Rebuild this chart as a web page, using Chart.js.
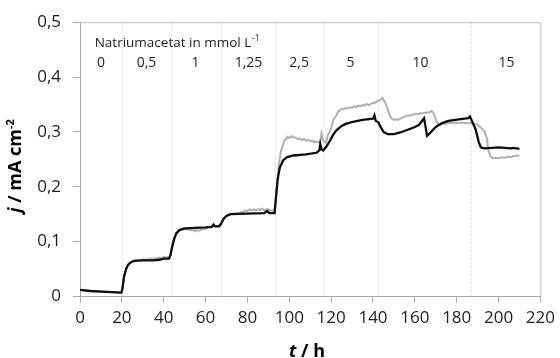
<!DOCTYPE html>
<html>
<head>
<meta charset="utf-8">
<script src="https://cdn.jsdelivr.net/npm/chart.js@4"></script>
<style>
html,body{margin:0;padding:0;background:#fff;}
#wrap{width:560px;height:358px;}
</style>
</head>
<body>
<div id="wrap"><canvas id="c" width="560" height="358"></canvas></div>
<script>
// ---- data ----
const tBlack = [0,5,10,15,19.8,20.3,21,22,23,24.5,26,30,35,38,40,42.5,43.2,44,45,46,47.5,50,55,60,63,63.8,64.5,66.5,67.5,68.5,70,72,80,88,89.5,90.5,93,93.5,94.5,95.5,97,99,102,108,113,114.3,114.8,115.4,116.2,117.5,119.3,121,122.5,125,127.3,131,135,140,140.7,141.3,142.5,143.5,145,147,150,153,156,160,162,164.4,165.3,165.8,167,170,173,176,181,185.5,186.3,187.5,189,190.5,191.5,193,197,200,203,206,207,210];
const jBlack = [0.012,0.010,0.009,0.008,0.007,0.015,0.035,0.050,0.058,0.063,0.065,0.066,0.066,0.067,0.069,0.069,0.075,0.090,0.105,0.115,0.121,0.124,0.125,0.126,0.127,0.131,0.128,0.128,0.133,0.141,0.147,0.150,0.151,0.152,0.156,0.152,0.152,0.175,0.215,0.235,0.248,0.254,0.257,0.259,0.262,0.266,0.278,0.268,0.266,0.272,0.283,0.295,0.303,0.311,0.315,0.319,0.322,0.324,0.330,0.320,0.318,0.310,0.300,0.296,0.296,0.299,0.303,0.309,0.313,0.325,0.305,0.293,0.297,0.309,0.316,0.320,0.323,0.325,0.328,0.318,0.305,0.282,0.272,0.270,0.271,0.272,0.271,0.270,0.271,0.269];

const tGray = [0,5,10,15,19.8,20.3,21,22,23,24.5,26,28,29,30,31,32,33,34,35,36,37,38,39,40,41,42,42.5,43.2,44,45,46,47.5,50,52,53,54,55,56,57,58,60,63,63.8,64.5,66.5,67.5,68.5,70,72,74,75,76,77,78,79,80,81,82,83,84,85,86,87,88,89,90,91,92.5,93.3,94,95,96,97.5,98.5,99,100,101,102,103,104,105,106,107,108,109,110,111,112,113,114.2,114.8,115.4,116.2,117.5,118.5,120,121,122.5,123.5,124,125,126,127,128,129,130,131,132,133,134,135,136,137,138,139,140,140.6,141.5,143,144.5,146,147,148,149,150,151,152,153.5,155,156.5,158,159.5,161,162.5,164,164.7,165.3,167,168,169,170.5,172,173.5,175,176.5,178,179.5,181,182.5,184.5,186.5,188,189.5,190.5,191.7,193.3,194.5,195,196,197,198.5,200,201.5,203,204.5,206,207,208,209,210];
const jGray = [0.012,0.010,0.009,0.008,0.007,0.015,0.035,0.050,0.058,0.063,0.065,0.067,0.066,0.068,0.067,0.068,0.067,0.069,0.068,0.070,0.069,0.071,0.070,0.072,0.071,0.072,0.070,0.075,0.090,0.105,0.115,0.121,0.123,0.122,0.121,0.122,0.119,0.121,0.120,0.122,0.124,0.127,0.130,0.128,0.129,0.134,0.142,0.148,0.151,0.151,0.152,0.151,0.154,0.153,0.157,0.156,0.159,0.157,0.159,0.157,0.159,0.158,0.160,0.157,0.159,0.159,0.157,0.156,0.165,0.200,0.240,0.265,0.283,0.287,0.291,0.289,0.292,0.290,0.290,0.287,0.288,0.285,0.287,0.284,0.286,0.283,0.284,0.281,0.283,0.281,0.282,0.297,0.285,0.280,0.295,0.306,0.322,0.330,0.338,0.338,0.342,0.341,0.344,0.343,0.345,0.344,0.347,0.345,0.348,0.347,0.349,0.348,0.351,0.349,0.351,0.353,0.352,0.355,0.357,0.362,0.352,0.342,0.330,0.324,0.322,0.323,0.322,0.325,0.328,0.330,0.330,0.332,0.332,0.334,0.334,0.335,0.335,0.336,0.338,0.334,0.318,0.313,0.315,0.315,0.317,0.316,0.317,0.316,0.317,0.316,0.316,0.314,0.314,0.311,0.307,0.301,0.287,0.268,0.257,0.252,0.253,0.252,0.254,0.253,0.255,0.254,0.256,0.256,0.257,0.257,0.258,0.258,0.260,0.259,0.261];

const xTicks = [0,20,40,60,80,100,120,140,160,180,200,220];
const yTicks = [0,0.1,0.2,0.3,0.4,0.5];
const switchTimes = [20,43.4,67.3,93.3,116,142.6,187];
const concLabels = ['0','0,5','1','1,25','2,5','5','10','15'];
const concLabelT = [10,31.8,55.2,80.5,104.7,129.3,162.7,203.8];
const headerText = 'Natriumacetat in mmol L';
const headerSup = '-1';
const headerPos = [7.0, 0.4544];
const concLabelJ = 0.4184;

const FONT = "'Open Sans', 'Liberation Sans', sans-serif";

function pts(ts, js){ return ts.map((t,i)=>({x:t,y:js[i]})); }

function drawSegments(ctx, segs, cx, cy){
  let total = 0;
  segs.forEach(s=>{ ctx.font = s.font; s.w = ctx.measureText(s.text).width; total += s.w; });
  let x = cx - total/2;
  ctx.textAlign = 'left';
  ctx.textBaseline = 'alphabetic';
  segs.forEach(s=>{ ctx.font = s.font; ctx.fillText(s.text, x, cy + (s.dy||0)); x += s.w; });
}

const annot = {
  id:'annot',
  beforeDatasetsDraw(chart){
    const {ctx, chartArea:a, scales:{x}} = chart;
    ctx.save();
    ctx.strokeStyle = '#e2e2e2';
    ctx.lineWidth = 1;
    ctx.setLineDash([2,2]);
    switchTimes.forEach(t=>{
      const px = Math.round(x.getPixelForValue(t))+0.5;
      ctx.beginPath(); ctx.moveTo(px, a.top); ctx.lineTo(px, a.bottom); ctx.stroke();
    });
    ctx.restore();
  },
  afterDraw(chart){
    const {ctx, chartArea:a, scales:{x,y}} = chart;
    ctx.save();
    ctx.strokeStyle = '#bdbdbd';
    ctx.lineWidth = 1;
    ctx.beginPath();
    ctx.moveTo(a.left, a.top+0.5); ctx.lineTo(a.right+0.5, a.top+0.5); ctx.lineTo(a.right+0.5, a.bottom);
    ctx.stroke();
    ctx.fillStyle = '#1e1e1e';
    ctx.textAlign = 'left'; ctx.textBaseline = 'alphabetic';
    ctx.font = '13.5px ' + FONT;
    const hx = x.getPixelForValue(headerPos[0]), hy = y.getPixelForValue(headerPos[1]);
    ctx.fillText(headerText, hx, hy);
    const hw = ctx.measureText(headerText).width;
    ctx.font = '9px ' + FONT;
    ctx.fillText(headerSup, hx + hw + 0.5, hy - 6);
    ctx.font = '14px ' + FONT;
    ctx.textAlign = 'center';
    concLabels.forEach((l,i)=>{
      ctx.fillText(l, x.getPixelForValue(concLabelT[i]), y.getPixelForValue(concLabelJ));
    });
    ctx.fillStyle = '#000';
    drawSegments(ctx, [
      {text:'t', font:'italic bold 18px ' + FONT},
      {text:' / h', font:'bold 18px ' + FONT}
    ], 307, 357);
    ctx.translate(21, 166);
    ctx.rotate(-Math.PI/2);
    drawSegments(ctx, [
      {text:'j', font:'italic bold 18px ' + FONT},
      {text:' / mA cm', font:'bold 18px ' + FONT},
      {text:'-2', font:'bold 11px ' + FONT, dy:-7}
    ], 0, 0);
    ctx.restore();
  }
};

new Chart(document.getElementById('c'), {
  type:'line',
  data:{
    datasets:[
      {label:'grau', data:pts(tGray,jGray), borderColor:'#b0b0b0', borderWidth:2, pointRadius:0, tension:0, order:2},
      {label:'schwarz', data:pts(tBlack,jBlack), borderColor:'#0d0d0d', borderWidth:2.3, pointRadius:0, tension:0, order:1}
    ]
  },
  plugins:[annot],
  options:{
    responsive:false,
    animation:false,
    events:[],
    layout:{padding:{top:19, right:19, left:0, bottom:0}},
    plugins:{legend:{display:false}, tooltip:{enabled:false}, title:{display:false}},
    scales:{
      x:{
        type:'linear', min:0, max:220,
        afterBuildTicks(s){ s.ticks = xTicks.map(v=>({value:v})); },
        afterFit(s){ s.height = 61.5; },
        ticks:{font:{family:FONT, size:17}, color:'#1e1e1e', padding:5, maxRotation:0, autoSkip:false},
        grid:{drawOnChartArea:false, drawTicks:true, tickLength:6, color:'#a6a6a6'},
        border:{color:'#a6a6a6'}
      },
      y:{
        type:'linear', min:0, max:0.5,
        afterBuildTicks(s){ s.ticks = yTicks.map(v=>({value:v})); },
        afterFit(s){ s.width = 80; },
        ticks:{font:{family:FONT, size:17}, color:'#1e1e1e', padding:12,
          callback:(v)=> v===0 ? '0' : v.toFixed(1).replace('.',',')},
        grid:{drawOnChartArea:false, drawTicks:true, tickLength:7, color:'#a6a6a6'},
        border:{color:'#a6a6a6'}
      }
    }
  }
});
</script>
</body>
</html>
